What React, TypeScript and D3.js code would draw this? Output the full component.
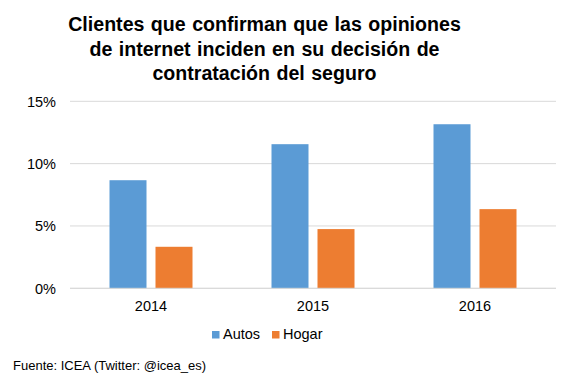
import React from "react";
import * as d3 from "d3";

const years = ["2014", "2015", "2016"];
const seriesNames = ["Autos", "Hogar"];
const autos = [8.67, 11.56, 13.16];
const hogar = [3.33, 4.75, 6.35];
const yTicks = [0, 5, 10, 15];
const titleLines = [
  "Clientes que confirman que las opiniones",
  "de internet inciden en su decisión de",
  "contratación del seguro",
];
const source = "Fuente: ICEA (Twitter: @icea_es)";

const colors = ["#5b9bd5", "#ed7d31"];
const W = 567;
const H = 379;
const font = "Liberation Sans, Arial, sans-serif";

export default function App() {
  const left = 70;
  const right = 556;
  const top = 101.3;
  const bottom = 288.3;
  const x0 = d3.scaleBand<string>().domain(years).range([left, right]).padding(0);
  const x1 = d3
    .scaleBand<string>()
    .domain(seriesNames)
    .range([(x0.bandwidth() - 83) / 2, (x0.bandwidth() + 83) / 2])
    .paddingInner(9 / 46);
  const y = d3.scaleLinear().domain([0, 15]).range([bottom, top]);
  const values = [autos, hogar];

  return (
    <svg
      width={W}
      height={H}
      style={{ position: "absolute", left: 0, top: 0, background: "#fff" }}
      fontFamily={font}
    >
      <rect width={W} height={H} fill="#fff" />
      {titleLines.map((t, i) => (
        <text
          key={i}
          x={264.5}
          y={31 + i * 24.5}
          textAnchor="middle"
          fontWeight="bold"
          fontSize={19.6}
          wordSpacing={1}
          fill="#000"
        >
          {t}
        </text>
      ))}
      {yTicks.map((t) => (
        <g key={t}>
          <line x1={left} x2={right} y1={y(t)} y2={y(t)} stroke="#d9d9d9" strokeWidth={1} />
          <text
            x={56}
            y={y(t)}
            dy="0.36em"
            textAnchor="end"
            fontSize={14.5}
            fill="#000"
          >
            {t}%
          </text>
        </g>
      ))}
      {years.map((yr, i) => (
        <g key={yr} transform={`translate(${x0(yr)},0)`}>
          {seriesNames.map((s, j) => (
            <rect
              key={s}
              x={x1(s)}
              width={x1.bandwidth()}
              y={y(values[j][i])}
              height={y(0) - y(values[j][i])}
              fill={colors[j]}
            />
          ))}
          <text
            x={x0.bandwidth() / 2}
            y={310.5}
            textAnchor="middle"
            fontSize={14.5}
            fill="#000"
          >
            {yr}
          </text>
        </g>
      ))}
      <line x1={left} x2={right} y1={y(0)} y2={y(0)} stroke="#d9d9d9" strokeWidth={1} />
      {seriesNames.map((s, j) => {
        const lx = [212, 272][j];
        return (
          <g key={s}>
            <rect x={lx} y={331} width={7.5} height={7.5} fill={colors[j]} />
            <text x={lx + 11} y={339} fontSize={14.5} fill="#000">
              {s}
            </text>
          </g>
        );
      })}
      <text x={13} y={370} fontSize={13} fill="#000">
        {source}
      </text>
    </svg>
  );
}
